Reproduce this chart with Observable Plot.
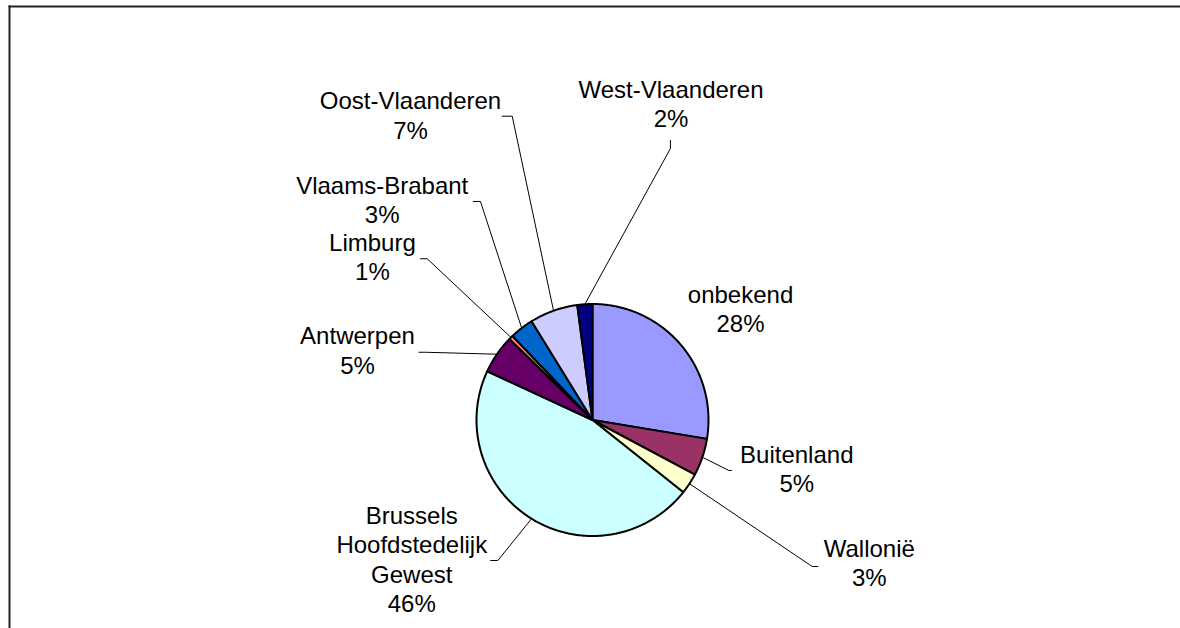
<!DOCTYPE html>
<html>
<head>
<meta charset="utf-8">
<script src="https://cdn.jsdelivr.net/npm/d3@7"></script>
<script src="https://cdn.jsdelivr.net/npm/@observablehq/plot@0.6"></script>
<style>
html, body { margin: 0; padding: 0; background: #fff; overflow: hidden; }
#wrap { width: 1180px; height: 628px; overflow: hidden; background: #fff; }
#wrap svg { display: block; }
</style>
</head>
<body>
<div id="wrap"></div>
<script>
// ---- data ----
const categories = ["onbekend", "Buitenland", "Wallonië", "Brussels Hoofdstedelijk Gewest",
  "Antwerpen", "Limburg", "Vlaams-Brabant", "Oost-Vlaanderen", "West-Vlaanderen"];
const shares = [27.6, 5.2, 2.9, 46.2, 5.4, 0.6, 3.3, 6.7, 2.1];
const percentLabels = ["28%", "5%", "3%", "46%", "5%", "1%", "3%", "7%", "2%"];
const labelNames = ["onbekend", "Buitenland", "Wallonië", "Brussels\nHoofdstedelijk\nGewest",
  "Antwerpen", "Limburg", "Vlaams-Brabant", "Oost-Vlaanderen", "West-Vlaanderen"];
const sliceColors = ["#9999FF", "#993366", "#FFFFCC", "#CCFFFF", "#660066",
  "#FF8080", "#0066CC", "#CCCCFF", "#000080"];

// ---- layout (in pie-radius units, y up; label = centre x / last baseline) ----
const labelX = [1.276, 1.761, 2.386, -1.558, -2.026, -1.897, -1.813, -1.569, 0.677];
const labelY = [0.757, -0.622, -1.433, -1.657, 0.398, 1.203, 1.697, 2.424, 2.524];
// leader lines: elbow and end points (null = no leader)
const leaderElbow = [null, [1.175, -0.435], [1.894, -1.263], [-0.816, -1.211], [-1.440, 0.584],
  [-1.425, 1.390], [-0.966, 1.884], [-0.692, 2.619], [0.672, 2.341]];
const leaderEnd = [null, [1.198, -0.435], [1.942, -1.263], [-0.879, -1.211], [-1.497, 0.584],
  [-1.483, 1.390], [-1.028, 1.884], [-0.778, 2.619], [0.672, 2.410]];

const cx = 592, cy = 419.5, r = 116;

// ---- build geometry ----
const arcs = d3.pie().sort(null).value(d => d)(shares);
const slicePts = [];
arcs.forEach((a, i) => {
  const n = Math.max(2, Math.ceil((a.endAngle - a.startAngle) / (Math.PI / 360)));
  slicePts.push({key: i, x: 0, y: 0, color: sliceColors[i]});
  for (let k = 0; k <= n; ++k) {
    const t = a.startAngle + (a.endAngle - a.startAngle) * k / n;
    slicePts.push({key: i, x: Math.sin(t), y: Math.cos(t), color: sliceColors[i]});
  }
  slicePts.push({key: i, x: 0, y: 0, color: sliceColors[i]});
});

const leaderPts = [];
arcs.forEach((a, i) => {
  if (!leaderElbow[i]) return;
  const m = (a.startAngle + a.endAngle) / 2;
  leaderPts.push({key: i, x: Math.sin(m), y: Math.cos(m)});
  leaderPts.push({key: i, x: leaderElbow[i][0], y: leaderElbow[i][1]});
  leaderPts.push({key: i, x: leaderEnd[i][0], y: leaderEnd[i][1]});
});

const labels = categories.map((c, i) => ({
  x: labelX[i], y: labelY[i], text: labelNames[i] + "\n" + percentLabels[i]
}));

const chart = Plot.plot({
  width: 1180,
  height: 628,
  marginLeft: 9,
  marginTop: 6,
  marginRight: 0,
  marginBottom: 0,
  x: {domain: [-1, 1], range: [cx - r, cx + r], axis: null},
  y: {domain: [-1, 1], range: [cy + r, cy - r], axis: null},
  color: {type: "identity"},
  style: {background: "#fff", overflow: "hidden"},
  marks: [
    Plot.frame({anchor: "left", stroke: "#222", strokeWidth: 2}),
    Plot.frame({anchor: "top", stroke: "#222", strokeWidth: 2}),
    Plot.line(leaderPts, {x: "x", y: "y", z: "key", stroke: "#000", strokeWidth: 1, curve: "linear"}),
    Plot.line(slicePts, {x: "x", y: "y", z: "key", fill: "color", stroke: "#000",
      strokeWidth: 2, strokeLinejoin: "round", curve: "linear"}),
    Plot.text(labels, {x: "x", y: "y", text: "text", textAnchor: "middle", lineAnchor: "bottom",
      lineHeight: 1.225, fontSize: 24, fontFamily: "'Liberation Sans', Arial, sans-serif", fill: "#000"})
  ]
});
document.getElementById("wrap").append(chart);
</script>
</body>
</html>
